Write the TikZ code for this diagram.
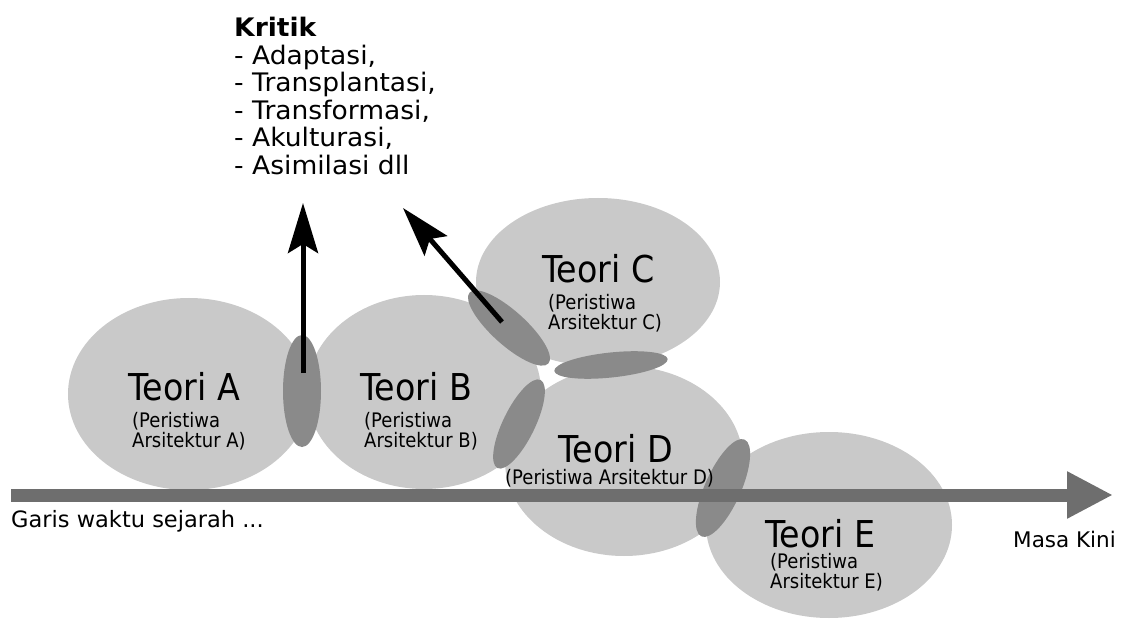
\documentclass[tikz,border=0pt]{standalone}
\usepackage{fontspec}
\setmainfont{DejaVu Sans}
\newfontfamily\teorifont{DejaVu Sans}[FakeStretch=0.9]
\newfontfamily\kritikfont{DejaVu Sans}[FakeStretch=1.04]
\usetikzlibrary{shapes.geometric, arrows.meta}
\definecolor{blobgray}{RGB}{201,201,201}
\definecolor{linkgray}{RGB}{138,138,138}
\definecolor{linegray}{RGB}{110,110,110}

\begin{document}
\begin{tikzpicture}[x=1pt, y=-1pt,
    blob/.style = {ellipse, fill=blobgray, inner sep=0pt},
    linkblob/.style = {ellipse, fill=linkgray, inner sep=0pt},
    teori/.style = {anchor=base west, inner sep=0pt, font=\teorifont\fontsize{37}{40}\selectfont},
    peristiwa/.style = {anchor=base west, inner sep=0pt, align=left, font=\teorifont\fontsize{20}{20}\selectfont},
    note/.style = {anchor=base west, inner sep=0pt, font=\fontsize{22.5}{26}\selectfont},
    critic/.style = {line width=5pt, -{Stealth[length=50pt, width=30pt, inset=9pt]}}]

    \useasboundingbox (0,0) rectangle (1122,620);

    % teori
    \node [blob, minimum width=242, minimum height=192] (A) at (189,394) {};
    \node [blob, minimum width=234, minimum height=194] (B) at (424,392) {};
    \node [blob, minimum width=244, minimum height=168] (C) at (598,282) {};
    \node [blob, minimum width=238, minimum height=190] (D) at (624,461) {};
    \node [blob, minimum width=246, minimum height=186] (E) at (829,525) {};

    % overlaps
    \node [linkblob, minimum width=38, minimum height=112] (AB) at (302,391) {};
    \node [linkblob, minimum width=106, minimum height=34, rotate=-42] (BC) at (509,328) {};
    \node [linkblob, minimum width=114, minimum height=25, rotate=6] (CD) at (611,365) {};
    \node [linkblob, minimum width=98, minimum height=32, rotate=64] (BD) at (519,424) {};
    \node [linkblob, minimum width=106, minimum height=36, rotate=66] (DE) at (723,488) {};

    % time line
    \coordinate (past) at (11,495);
    \coordinate (now) at (1113,495);
    \draw [linegray, line width=13pt, -{Triangle[length=46pt, width=44pt]}] (past) -- (now);

    % critics
    \coordinate (kritikAB) at (303,203);
    \coordinate (kritikBC) at (403,208);
    \draw [critic] ([xshift=1pt, yshift=18pt]AB.center) -- (kritikAB);
    \draw [critic] ([xshift=-7pt, yshift=6pt]BC.center) -- (kritikBC);

    \node [anchor=base west, inner sep=0pt, font=\kritikfont\bfseries\fontsize{25.5}{27.5}\selectfont] (kritik) at (234,37) {Kritik};
    \foreach \entry [count=\i] in {{- Adaptasi,}, {- Transplantasi,}, {- Transformasi,}, {- Akulturasi,}, {- Asimilasi dll}} {
      \node [anchor=base west, inner sep=0pt, font=\kritikfont\fontsize{25.5}{27.5}\selectfont] (kritik-\i) at (234, {37+27.5*\i}) {\entry};
    }

    % base of a two-line node is its last line
    \node [teori] (tA) at (128,400) {Teori A};
    \node [peristiwa] (pA) at (132,447) {(Peristiwa\\Arsitektur A)};
    \node [teori] (tB) at (360,400) {Teori B};
    \node [peristiwa] (pB) at (364,447) {(Peristiwa\\Arsitektur B)};
    \node [teori] (tC) at (542,283) {Teori C};
    \node [peristiwa] (pC) at (548,330) {(Peristiwa\\Arsitektur C)};
    \node [teori] (tD) at (558,462) {Teori D};
    \node [peristiwa] (pD) at (505,484) {(Peristiwa Arsitektur D)};
    \node [teori] (tE) at (765,547) {Teori E};
    \node [peristiwa] (pE) at (770,588) {(Peristiwa\\Arsitektur E)};

    \node [note] (garis) at (11,527) {Garis waktu sejarah ...};
    \node [note, font=\fontsize{21.5}{26}\selectfont] (kini) at (1013,547) {Masa Kini};
\end{tikzpicture}
\end{document}
